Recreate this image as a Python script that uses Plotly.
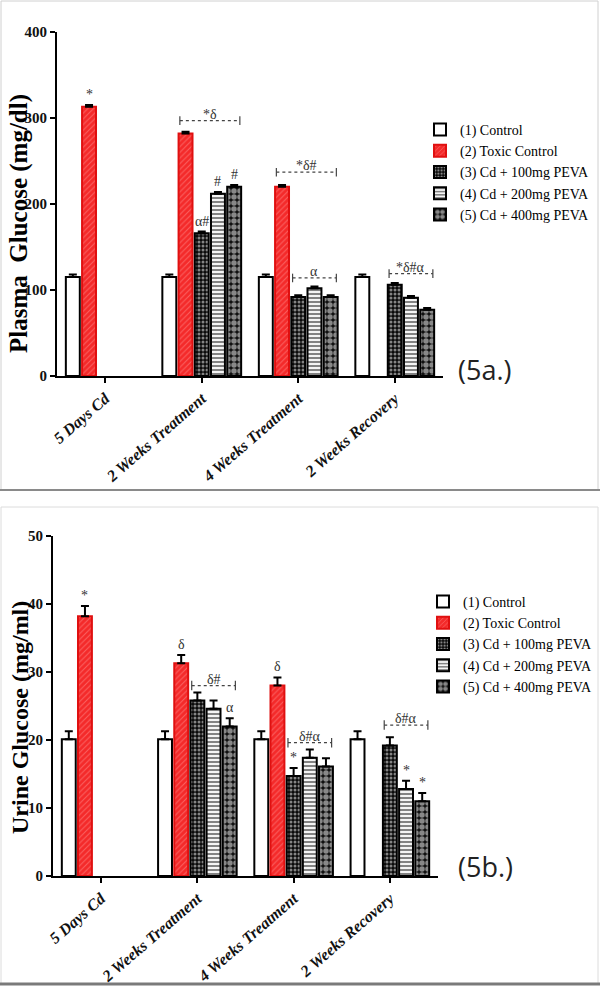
import plotly.graph_objects as go

# ---------------- data ----------------
categories = ["5 Days Cd", "2 Weeks Treatment", "4 Weeks Treatment", "2 Weeks Recovery"]
series_names = ["(1) Control", "(2) Toxic Control", "(3) Cd + 100mg PEVA",
                "(4) Cd + 200mg PEVA", "(5) Cd + 400mg PEVA"]

plasma_control = [115, 115, 115, 115]
plasma_toxic = [313, 282, 220, None]
plasma_100 = [None, 166, 92, 106]
plasma_200 = [None, 212, 102, 91]
plasma_400 = [None, 220, 92, 77]
plasma_err_control = [3, 3, 3, 3]
plasma_err_toxic = [2, 2, 2, None]
plasma_err_100 = [None, 2, 2, 2]
plasma_err_200 = [None, 2, 2, 2]
plasma_err_400 = [None, 2, 2, 2]

urine_control = [20.1, 20.1, 20.1, 20.1]
urine_toxic = [38.2, 31.3, 28.0, None]
urine_100 = [None, 25.8, 14.7, 19.2]
urine_200 = [None, 24.6, 17.4, 12.8]
urine_400 = [None, 22.0, 16.1, 11.0]
urine_err_control = [1.2, 1.2, 1.2, 1.2]
urine_err_toxic = [1.5, 1.2, 1.2, None]
urine_err_100 = [None, 1.2, 1.2, 1.2]
urine_err_200 = [None, 1.2, 1.2, 1.2]
urine_err_400 = [None, 1.2, 1.2, 1.2]

# significance labels: (group, series, text)
plasma_marks = [(0, 1, "*"), (1, 2, "α#"), (1, 3, "#"), (1, 4, "#")]
urine_marks = [(0, 1, "*"), (1, 1, "δ"), (1, 4, "α"), (2, 1, "δ"), (2, 2, "*"),
               (3, 3, "*"), (3, 4, "*")]
# brackets: (group, from series, to series, level, text)
plasma_brackets = [(1, 1, 4, 297, "*δ"), (2, 1, 4, 237, "*δ#"),
                   (2, 2, 4, 114, "α"), (3, 2, 4, 119, "*δ#α")]
urine_brackets = [(1, 2, 4, 28.0, "δ#"), (2, 2, 4, 19.6, "δ#α"), (3, 2, 4, 22.2, "δ#α")]

# ---------------- style ----------------
W, H = 600, 986
BARGAP = 0.16
SLOT = (1 - BARGAP) / 5
SERIF = "Liberation Serif"

styles = [
    dict(color="white", line=dict(color="black", width=2)),
    dict(color="#f42a2a", line=dict(color="#e01010", width=2),
         pattern=dict(shape="/", fgcolor="#ff9a9a", bgcolor="#f42a2a", size=4, solidity=0.25)),
    dict(color="black", line=dict(color="black", width=2),
         pattern=dict(shape=".", fgcolor="white", bgcolor="#0a0a0a", size=4, solidity=0.45)),
    dict(color="white", line=dict(color="black", width=2),
         pattern=dict(shape="-", fgcolor="#111111", bgcolor="#f4f4f4", size=4, solidity=0.5)),
    dict(color="black", line=dict(color="black", width=2),
         pattern=dict(shape=".", fgcolor="white", bgcolor="#111111", size=6, solidity=0.65)),
]

fig = go.Figure()
groups = list(range(len(categories)))

panels = [
    dict(xa="x", ya="y", leg="legend",
         vals=[plasma_control, plasma_toxic, plasma_100, plasma_200, plasma_400],
         errs=[plasma_err_control, plasma_err_toxic, plasma_err_100, plasma_err_200, plasma_err_400],
         marks=plasma_marks, brackets=plasma_brackets, tick_h=5),
    dict(xa="x2", ya="y2", leg="legend2",
         vals=[urine_control, urine_toxic, urine_100, urine_200, urine_400],
         errs=[urine_err_control, urine_err_toxic, urine_err_100, urine_err_200, urine_err_400],
         marks=urine_marks, brackets=urine_brackets, tick_h=0.7),
]

def bar_x(g, s):
    return g + (s - 2) * SLOT

for p in panels:
    for s, name in enumerate(series_names):
        fig.add_trace(go.Bar(
            x=groups, y=p["vals"][s], name=name, xaxis=p["xa"], yaxis=p["ya"],
            legend=p["leg"], marker=styles[s],
            error_y=dict(type="data", array=p["errs"][s], arrayminus=[0] * 4,
                         symmetric=False, color="black", thickness=2, width=4),
        ))
    for g, s, txt in p["marks"]:
        v = p["vals"][s][g] + p["errs"][s][g]
        fig.add_annotation(x=bar_x(g, s), y=v, text=txt, xref=p["xa"], yref=p["ya"],
                           showarrow=False, yanchor="bottom", yshift=1,
                           font=dict(family=SERIF, size=14, color="#333"))
    for g, s0, s1, lvl, txt in p["brackets"]:
        x0 = bar_x(g, s0) - 0.35 * SLOT
        x1 = bar_x(g, s1) + 0.35 * SLOT
        fig.add_shape(type="line", x0=x0, x1=x1, y0=lvl, y1=lvl, xref=p["xa"], yref=p["ya"],
                      line=dict(color="#444", width=1.2, dash="dot"))
        for xx in (x0, x1):
            fig.add_shape(type="line", x0=xx, x1=xx, y0=lvl - p["tick_h"], y1=lvl + p["tick_h"],
                          xref=p["xa"], yref=p["ya"], line=dict(color="#444", width=1.2))
        fig.add_annotation(x=(x0 + x1) / 2, y=lvl, text=txt, xref=p["xa"], yref=p["ya"],
                           showarrow=False, yanchor="bottom", yshift=-3,
                           font=dict(family=SERIF, size=14, color="#333"))

def px_x(v):
    return v / W

def px_y(v):
    return 1 - v / H

axis_common = dict(showline=True, linecolor="black", linewidth=2, ticks="outside",
                   tickcolor="black", tickwidth=2, ticklen=5, showgrid=False, zeroline=False)

xtick = dict(family=SERIF, size=16, color="#111", weight="bold", style="italic")
ytick = dict(family=SERIF, size=15, color="#111", weight="bold")

fig.update_layout(
    width=W, height=H, margin=dict(l=0, r=0, t=0, b=0, autoexpand=False),
    paper_bgcolor="white", plot_bgcolor="white",
    barmode="group", bargap=BARGAP, bargroupgap=0.14,
    xaxis=dict(domain=[px_x(57), px_x(443)], anchor="y", range=[-0.5, 3.5],
               tickvals=groups, ticktext=categories, tickangle=-41, tickfont=xtick, **axis_common),
    yaxis=dict(domain=[px_y(376), px_y(32)], anchor="x", range=[0, 400],
               tickvals=[0, 100, 200, 300, 400], tickfont=ytick, **axis_common),
    xaxis2=dict(domain=[px_x(53), px_x(438)], anchor="y2", range=[-0.5, 3.5],
                tickvals=groups, ticktext=categories, tickangle=-41, tickfont=xtick, **axis_common),
    yaxis2=dict(domain=[px_y(876), px_y(536)], anchor="x2", range=[0, 50],
                tickvals=[0, 10, 20, 30, 40, 50], tickfont=ytick, **axis_common),
    legend=dict(x=px_x(420), y=px_y(114), xanchor="left", yanchor="top",
                font=dict(family=SERIF, size=14, color="black"), bgcolor="rgba(0,0,0,0)"),
    legend2=dict(x=px_x(423), y=px_y(586), xanchor="left", yanchor="top",
                 font=dict(family=SERIF, size=14, color="black"), bgcolor="rgba(0,0,0,0)"),
    showlegend=True,
)

# y-axis titles
fig.add_annotation(x=px_x(19), y=px_y(224), xref="paper", yref="paper", text="Plasma  Glucose (mg/dl)",
                   textangle=-90, showarrow=False, xanchor="center", yanchor="middle",
                   font=dict(family=SERIF, size=25, color="black", weight="bold"))
fig.add_annotation(x=px_x(20), y=px_y(718), xref="paper", yref="paper", text="Urine Glucose (mg/ml)",
                   textangle=-90, showarrow=False, xanchor="center", yanchor="middle",
                   font=dict(family=SERIF, size=24, color="black", weight="bold"))
# panel labels
fig.add_annotation(x=px_x(456), y=px_y(370), xref="paper", yref="paper", text="(5a.)",
                   xanchor="left", yanchor="middle", showarrow=False,
                   font=dict(family="Open Sans", size=27, color="#222"))
fig.add_annotation(x=px_x(456), y=px_y(866), xref="paper", yref="paper", text="(5b.)",
                   xanchor="left", yanchor="middle", showarrow=False,
                   font=dict(family="Open Sans", size=27, color="#222"))

# panel frames
fig.add_shape(type="rect", xref="paper", yref="paper", x0=px_x(1), x1=px_x(598),
              y0=px_y(490), y1=px_y(1), line=dict(color="#d0d0d0", width=1))
fig.add_shape(type="line", xref="paper", yref="paper", x0=0, x1=1,
              y0=px_y(490), y1=px_y(490), line=dict(color="#8a8a8a", width=2))
fig.add_shape(type="rect", xref="paper", yref="paper", x0=px_x(1), x1=px_x(598),
              y0=px_y(984), y1=px_y(507), line=dict(color="#dcdcdc", width=1))
fig.add_shape(type="line", xref="paper", yref="paper", x0=0, x1=1,
              y0=px_y(984), y1=px_y(984), line=dict(color="#7a7a7a", width=3))

fig.write_html("out.html", config={"displayModeBar": False},
               post_script="document.body.style.margin='0px';document.body.style.overflow='hidden';")
